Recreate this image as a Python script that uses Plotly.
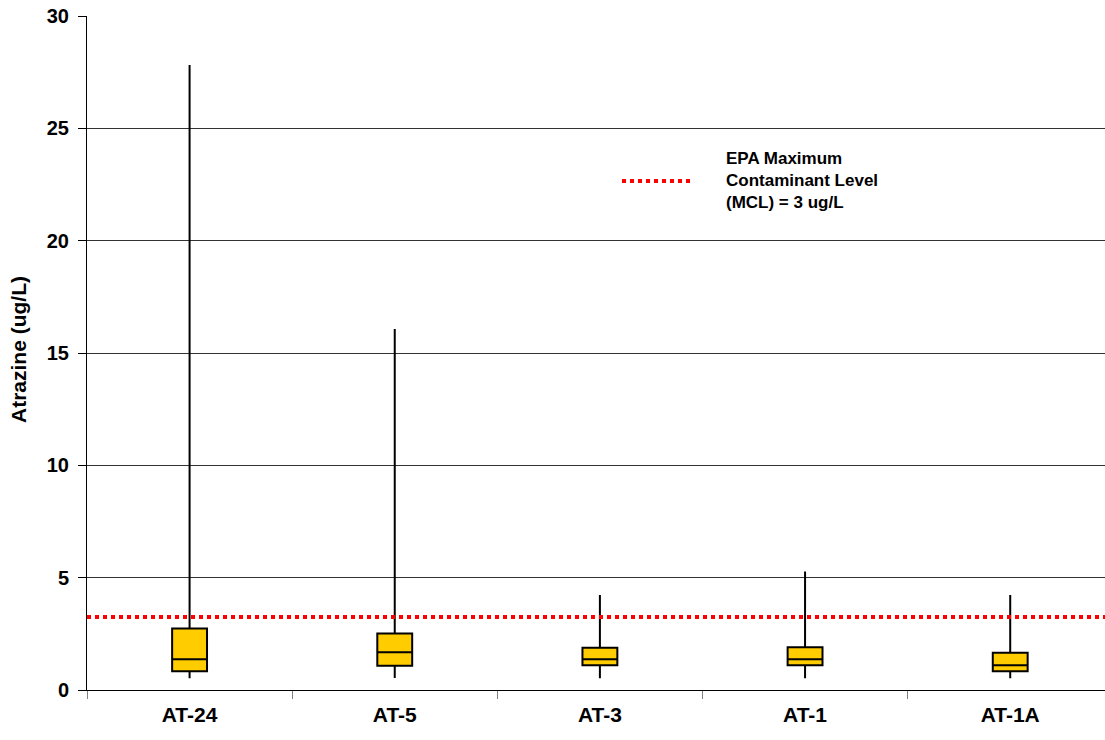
import plotly.graph_objects as go

sites = ["AT-24", "AT-5", "AT-3", "AT-1", "AT-1A"]
minimum = [0.52, 0.53, 0.52, 0.52, 0.52]
q1 = [0.83, 1.08, 1.10, 1.10, 0.83]
median = [1.37, 1.68, 1.37, 1.37, 1.10]
q3 = [2.74, 2.52, 1.88, 1.90, 1.66]
maximum = [27.82, 16.07, 4.23, 5.27, 4.23]
mcl = 3.25
y_ticks = [0, 5, 10, 15, 20, 25, 30]

font = "Liberation Sans, Arial, sans-serif"

fig = go.Figure()
fig.add_trace(go.Box(
    x=sites, q1=q1, median=median, q3=q3,
    lowerfence=minimum, upperfence=maximum,
    fillcolor="#FFCC00", line=dict(color="black", width=2),
    whiskerwidth=0, width=0.17, boxpoints=False,
    showlegend=False, hoverinfo="skip",
))

# MCL reference line
fig.add_shape(type="line", xref="paper", x0=0, x1=1, yref="y", y0=mcl, y1=mcl,
              line=dict(color="#FF0000", width=4, dash="4px,4px"), layer="above")

# legend sample + text (plot area spans page x 87..1105, y 16..690)
fig.add_shape(type="line", xref="paper", yref="paper",
              x0=(622 - 87) / 1018, x1=(692 - 87) / 1018,
              y0=(690 - 181) / 674, y1=(690 - 181) / 674,
              line=dict(color="#FF0000", width=4, dash="4px,4px"))
fig.add_annotation(xref="paper", yref="paper",
                   x=(724 - 87) / 1018, y=(690 - 181) / 674,
                   xanchor="left", yanchor="middle", align="left",
                   showarrow=False,
                   text="<b>EPA Maximum<br>Contaminant Level<br>(MCL) = 3 ug/L</b>",
                   font=dict(family=font, size=17, color="black"))

# y-axis title
fig.add_annotation(xref="paper", yref="paper",
                   x=(18 - 87) / 1018, y=(690 - 350) / 674,
                   xanchor="center", yanchor="middle", textangle=-90,
                   showarrow=False, text="<b>Atrazine (ug/L)</b>",
                   font=dict(family=font, size=21, color="black"))

fig.update_layout(
    width=1105, height=740,
    margin=dict(l=87, r=0, t=16, b=50, autoexpand=False),
    paper_bgcolor="white", plot_bgcolor="white",
    font=dict(family=font, color="black"),
    xaxis=dict(
        type="category", tickson="boundaries", ticks="outside", ticklen=8,
        tickcolor="#808080", showline=True, linecolor="black", linewidth=1,
        showgrid=False, range=[-0.5, 4.462], automargin=False,
        ticklabelstandoff=6,
        tickfont=dict(family=font, size=21, color="black", weight="bold"),
    ),
    yaxis=dict(
        range=[0, 30.001], tickvals=y_ticks, ticks="outside", ticklen=8,
        tickcolor="black", showline=True, linecolor="black", linewidth=1,
        showgrid=True, gridcolor="#333333", gridwidth=1, zeroline=False,
        automargin=False, ticklabeloverflow="allow", ticklabelstandoff=5,
        tickfont=dict(family=font, size=20, color="black", weight="bold"),
    ),
)

fig.write_html("out.html", config={"displayModeBar": False},
               post_script="document.body.style.margin='0';document.body.style.overflow='hidden';")
